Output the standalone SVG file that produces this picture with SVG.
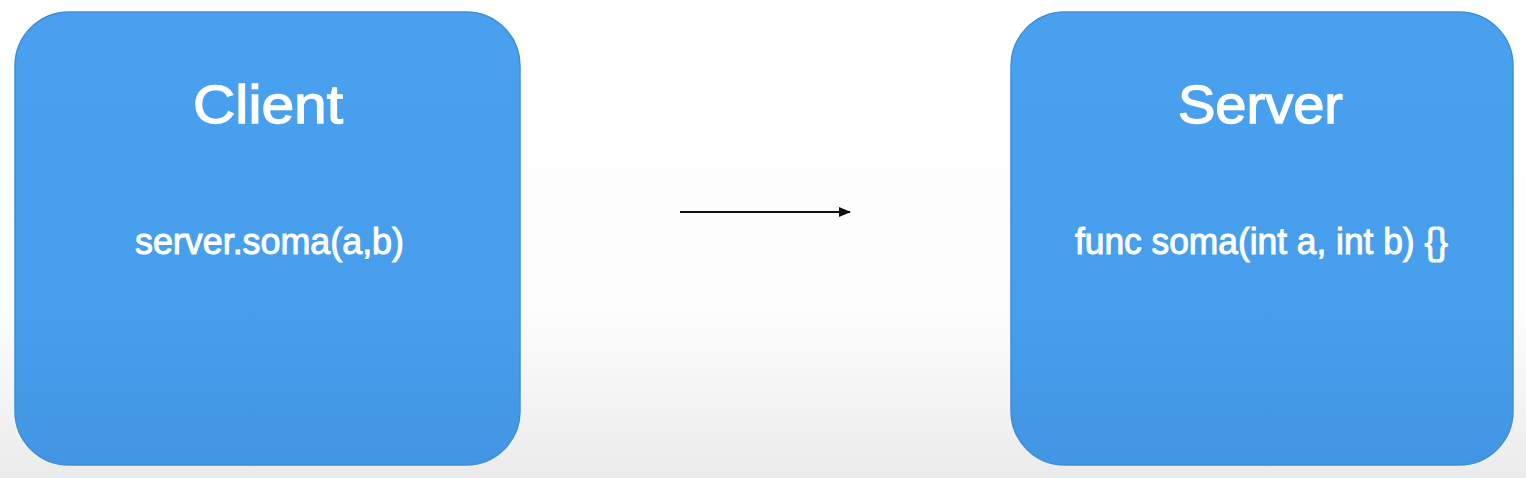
<svg xmlns="http://www.w3.org/2000/svg" width="1526" height="478" viewBox="0 0 1526 478">
  <defs>
    <linearGradient id="bg" x1="0" y1="0" x2="0" y2="1">
      <stop offset="0" stop-color="#ffffff"/>
      <stop offset="0.65" stop-color="#fdfdfd"/>
      <stop offset="1" stop-color="#ebebeb"/>
    </linearGradient>
    <linearGradient id="box" x1="0" y1="0" x2="0" y2="1">
      <stop offset="0" stop-color="#48a0ee"/>
      <stop offset="0.7" stop-color="#469eec"/>
      <stop offset="1" stop-color="#4295e2"/>
    </linearGradient>
    <marker id="arrow" markerWidth="12" markerHeight="10" refX="11" refY="5" orient="auto" markerUnits="userSpaceOnUse">
      <path d="M0,0 L12,5 L0,10 Z" fill="#111"/>
    </marker>
    <style>
      .node { fill: url(#box); stroke: #3f8fd6; stroke-width: 1.5; }
      .title { font-family: "Liberation Sans", Arial, sans-serif; font-size: 54px; fill: #ffffff; stroke: #ffffff; stroke-width: 1.3; text-anchor: middle; }
      .code { font-family: "Liberation Sans", Arial, sans-serif; font-size: 36px; fill: #ffffff; stroke: #ffffff; stroke-width: 1; text-anchor: middle; }
      .conn { stroke: #111; stroke-width: 2; fill: none; }
    </style>
  </defs>
  <rect x="0" y="0" width="1526" height="478" fill="url(#bg)"/>
  <g id="client">
    <rect class="node" x="15" y="12" width="505" height="453" rx="54" ry="54"/>
    <text class="title" x="268" y="123" textLength="150" lengthAdjust="spacingAndGlyphs">Client</text>
    <text class="code" x="269.5" y="254" textLength="269" lengthAdjust="spacingAndGlyphs">server.soma(a,b)</text>
  </g>
  <g id="server">
    <rect class="node" x="1011" y="12" width="502" height="453" rx="54" ry="54"/>
    <text class="title" x="1260.5" y="123" textLength="165" lengthAdjust="spacingAndGlyphs">Server</text>
    <text class="code" x="1261.5" y="254" textLength="373" lengthAdjust="spacingAndGlyphs">func soma(int a, int b) {}</text>
  </g>
  <g id="connectors">
    <line class="conn" x1="680" y1="212" x2="850" y2="212" marker-end="url(#arrow)"/>
  </g>
</svg>
